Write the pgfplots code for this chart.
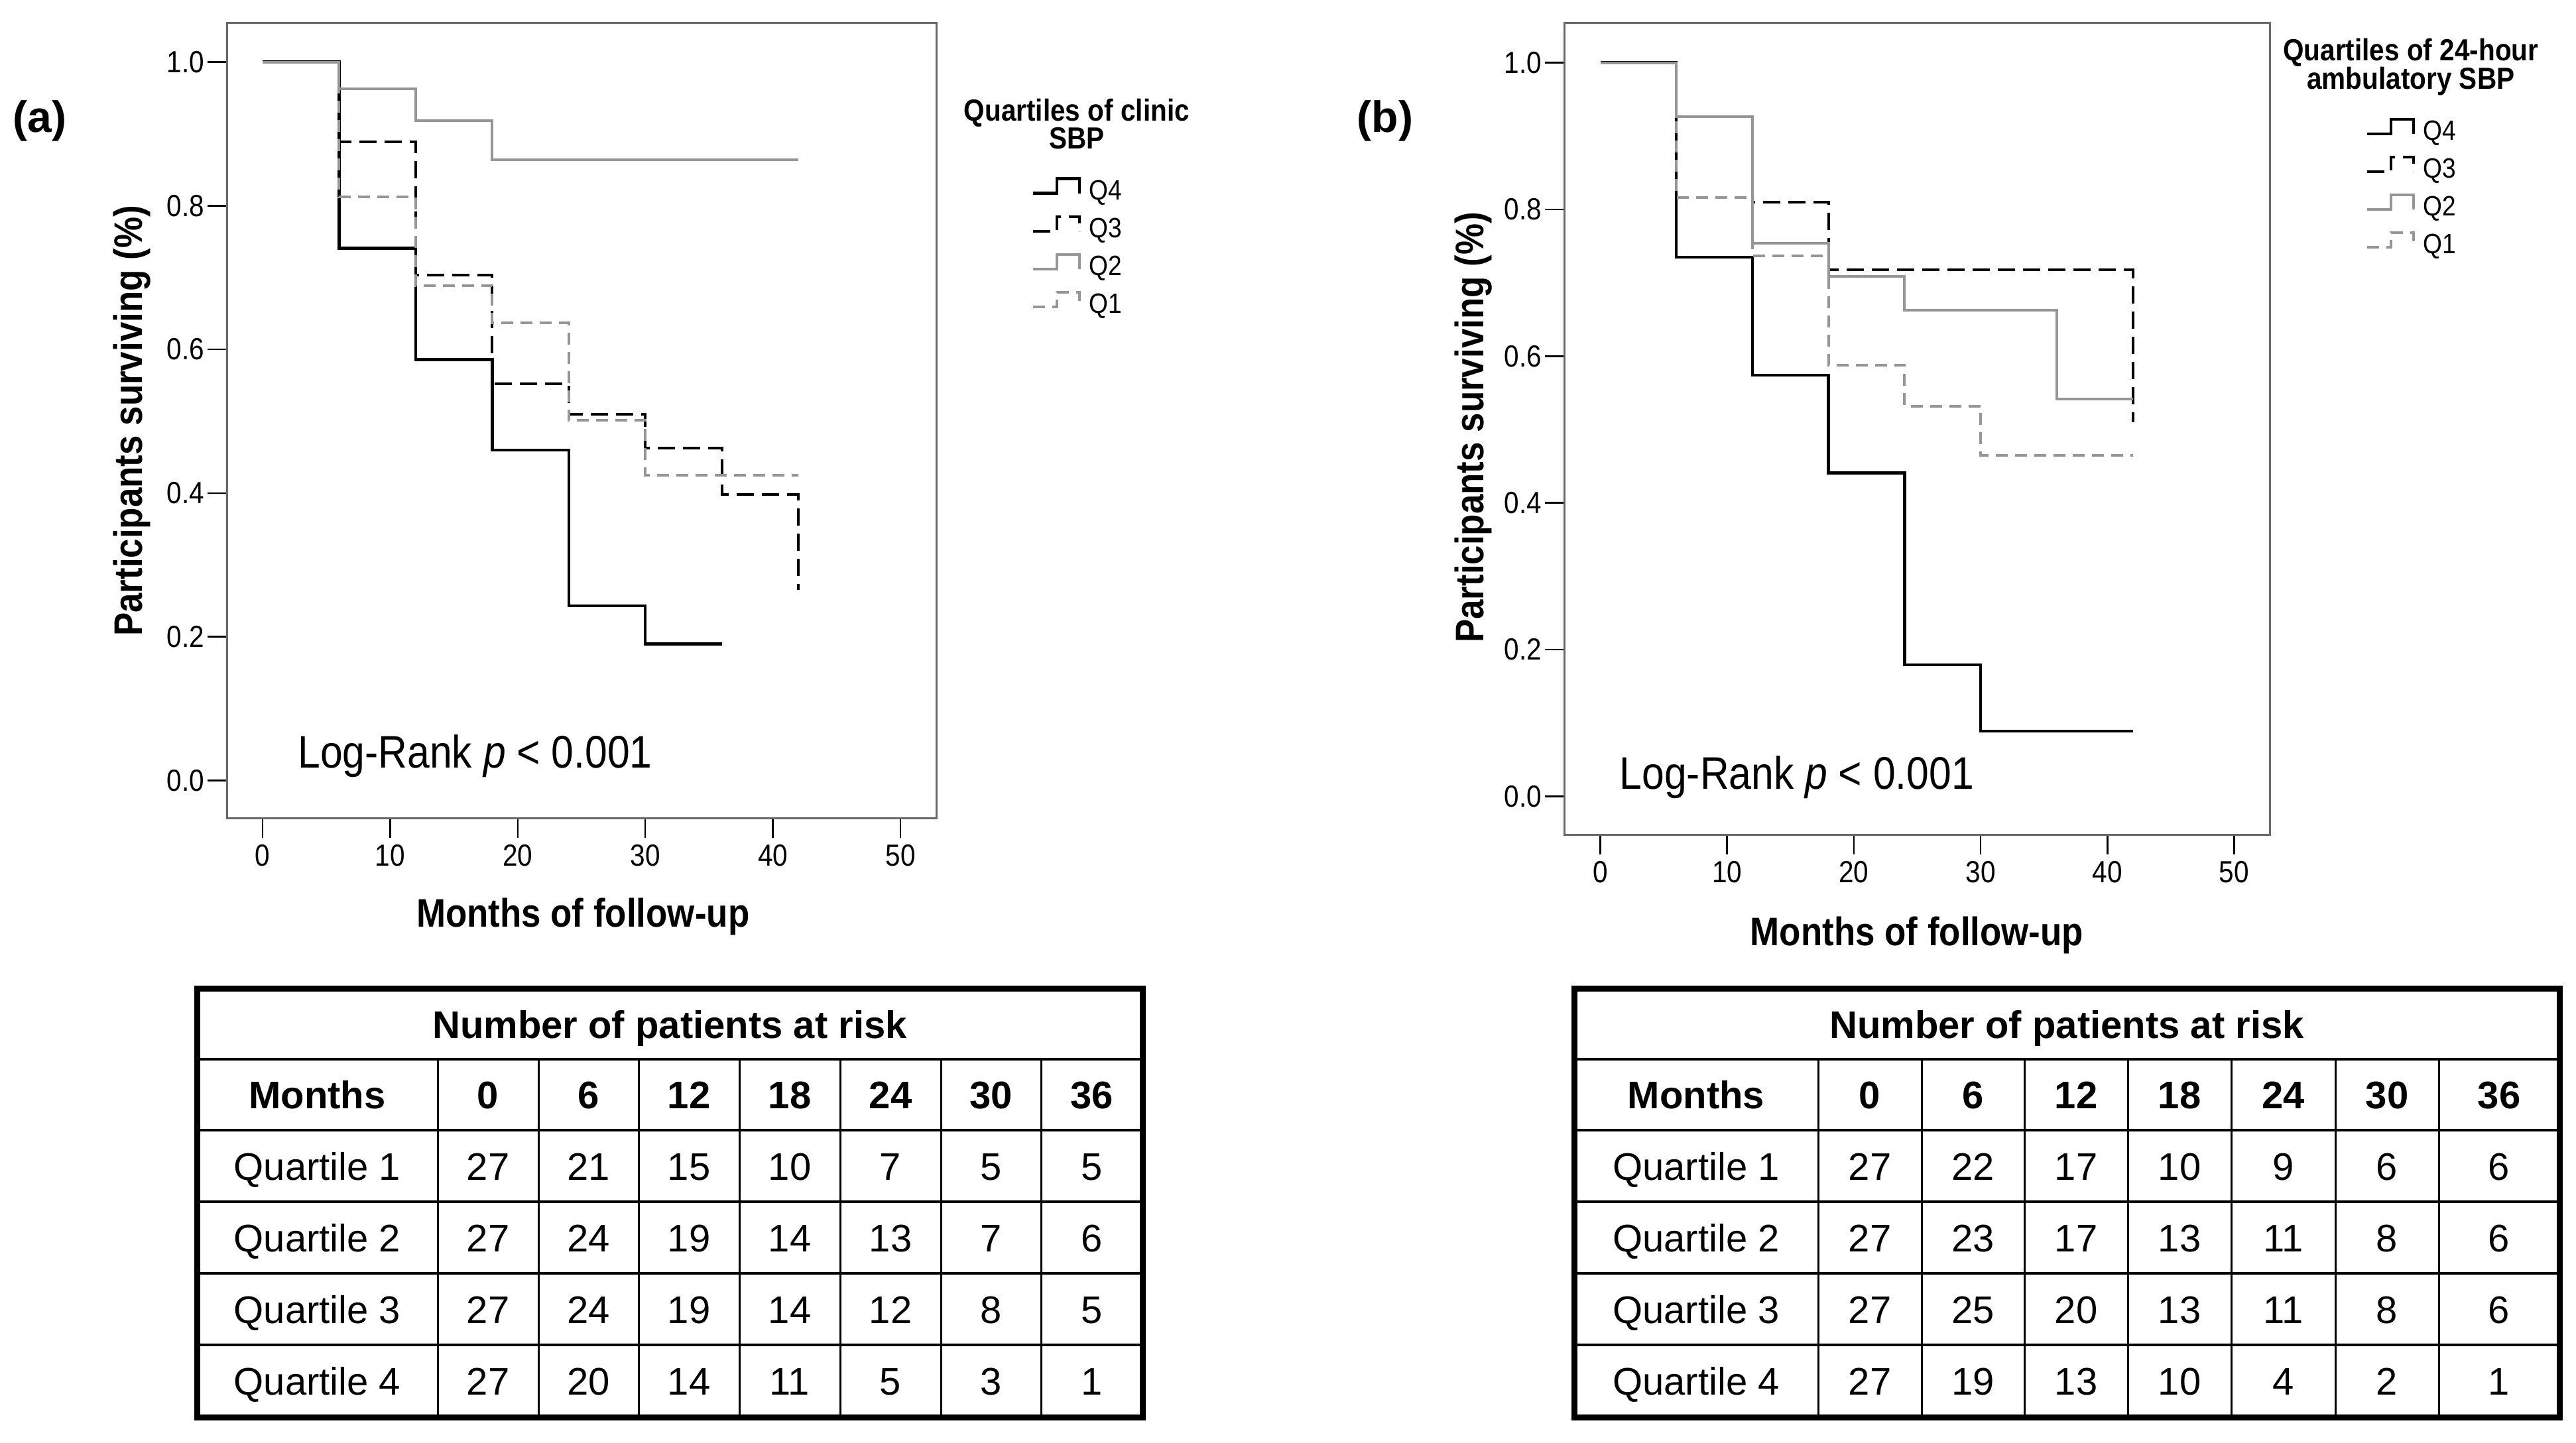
\documentclass[border=0pt]{standalone}
\usepackage{fontspec}
\setmainfont{Liberation Sans}
\newfontfamily\chartfont{Liberation Sans}[FakeStretch=0.88]
\usepackage{pgfplots}
\pgfplotsset{compat=1.18}

\definecolor{kmgray}{RGB}{150,150,150}
\definecolor{framegray}{RGB}{105,105,105}

\pgfplotsset{
  kmaxis/.style={
    scale only axis, anchor=south west, clip=false,
    xmin=-2.8, xmax=52.8, ymin=-0.053, ymax=1.054,
    xtick={0,10,20,30,40,50}, ytick={0,0.2,0.4,0.6,0.8,1},
    tick pos=left, tick align=outside, major tick length=2.9mm,
    axis line style={framegray, line width=0.3mm},
    tick style={black, line width=0.25mm},
    /pgf/number format/assume math mode=true,
    ticklabel style={font=\chartfont\fontsize{13.1pt}{15pt}\selectfont},
    yticklabel style={/pgf/number format/fixed, /pgf/number format/fixed zerofill,
      /pgf/number format/precision=1, inner sep=0.4mm},
    xticklabel style={inner sep=1mm},
    label style={font=\chartfont\bfseries\fontsize{17.1pt}{20pt}\selectfont},
    legend cell align=left,
    legend style={draw=none, fill=none, inner sep=0pt, anchor=west,
      row sep=1.5mm, column sep=1.2mm,
      nodes={inner sep=0pt, text height=4.2mm, text depth=0pt,
        font=\chartfont\fontsize{12pt}{14pt}\selectfont}},
  },
  kmstep/.style={const plot,
    legend image code/.code={\draw[##1, line join=miter]
      (0mm,-1.1mm) -- (3.6mm,-1.1mm) -- (3.6mm,1.1mm) -- (7mm,1.1mm) -- (7mm,-1.1mm);}},
  q4/.style={kmstep, black, line width=0.45mm},
  q3/.style={kmstep, black, line width=0.4mm, dash pattern=on 2.6mm off 1.2mm},
  q2/.style={kmstep, kmgray, line width=0.4mm},
  q1/.style={kmstep, kmgray, line width=0.4mm, dash pattern=on 1.8mm off 1.1mm},
}

\newcommand\tabfont{\fontsize{16.5pt}{19pt}\selectfont}

\begin{document}
\begin{tikzpicture}
\path[use as bounding box] (0,0) rectangle (388.5mm,217.7mm);

% panel (a): clinic SBP
\begin{axis}[kmaxis,
  at={(34.2mm,94.2mm)}, width=107mm, height=120mm,
  xlabel={Months of follow-up}, ylabel={Participants surviving (\%)},
  xlabel style={at={(axis description cs:0.502,-0.123)}, anchor=center},
  ylabel style={at={(axis description cs:-0.134,0.5)}, anchor=center},
  legend style={at={(axis description cs:1.1336,0.724)}},
]
\addplot[q4] coordinates {(0,1) (6,0.741) (12,0.586) (18,0.460) (24,0.243) (30,0.190) (36,0.190)};
\addlegendentry{Q4}
\addplot[q3] coordinates {(0,1) (6,0.889) (12,0.703) (18,0.552) (24,0.510) (30,0.463) (36,0.398) (42,0.265)};
\addlegendentry{Q3}
\addplot[q2] coordinates {(0,1) (6,0.963) (12,0.918) (18,0.864) (42,0.864)};
\addlegendentry{Q2}
\addplot[q1] coordinates {(0,1) (6,0.812) (12,0.689) (18,0.637) (24,0.501) (30,0.425) (42,0.425)};
\addlegendentry{Q1}
\node[anchor=base west, inner sep=0pt, font=\chartfont\fontsize{19.6pt}{22pt}\selectfont]
  at (axis cs:2.75,0.018) {Log-Rank \textit{p} < 0.001};
\node[align=center, inner sep=0pt, font=\chartfont\bfseries\fontsize{13.1pt}{12pt}\selectfont]
  at (axis description cs:1.198,0.873) {Quartiles of clinic\\SBP};
\end{axis}

% panel (b): 24-hour ambulatory SBP
\begin{axis}[kmaxis,
  at={(235.9mm,91.7mm)}, width=106.4mm, height=122.5mm,
  xmin=-2.85,
  xlabel={Months of follow-up}, ylabel={Participants surviving (\%)},
  xlabel style={at={(axis description cs:0.5,-0.123)}, anchor=center},
  ylabel style={at={(axis description cs:-0.129,0.502)}, anchor=center},
  legend style={at={(axis description cs:1.1353,0.803)}},
]
\addplot[q4] coordinates {(0,1) (6,0.735) (12,0.574) (18,0.441) (24,0.179) (30,0.089) (42,0.089)};
\addlegendentry{Q4}
\addplot[q3] coordinates {(0,1) (6,0.927) (12,0.810) (18,0.718) (42,0.510)};
\addlegendentry{Q3}
\addplot[q2] coordinates {(0,1) (6,0.927) (12,0.754) (18,0.709) (24,0.663) (36,0.542) (42,0.542)};
\addlegendentry{Q2}
\addplot[q1] coordinates {(0,1) (6,0.816) (12,0.737) (18,0.588) (24,0.532) (30,0.465) (42,0.465)};
\addlegendentry{Q1}
\node[anchor=base west, inner sep=0pt, font=\chartfont\fontsize{19.6pt}{22pt}\selectfont]
  at (axis cs:1.49,0.010) {Log-Rank \textit{p} < 0.001};
\node[align=center, inner sep=0pt, font=\chartfont\bfseries\fontsize{13.1pt}{12.2pt}\selectfont]
  at (axis description cs:1.2,0.946) {Quartiles of 24-hour\\ambulatory SBP};
\end{axis}

\node[anchor=base west, inner sep=0pt, font=\bfseries\fontsize{18.8pt}{21pt}\selectfont]
  at (1.9mm,197.7mm) {(a)};
\node[anchor=base west, inner sep=0pt, font=\bfseries\fontsize{18.8pt}{21pt}\selectfont]
  at (204.6mm,197.7mm) {(b)};

% at-risk tables, coordinates in pixels of the 3885 x 2177 page
\begin{scope}[x=0.1mm, y=-0.1mm, shift={(0mm,217.7mm)}]
  % table (a)
  \draw[line width=0.45mm] (297,1598) -- (1723,1598);
  \foreach \y in {1705,1813,1921,2029} \draw[line width=0.4mm] (297,\y) -- (1723,\y);
  \foreach \x in {660,812,963,1115,1267,1419,1570} \draw[line width=0.3mm] (\x,1598) -- (\x,2138);
  \draw[line width=0.9mm] (297,1492) rectangle (1723,2138);
  \node[anchor=base, inner sep=0pt, font=\tabfont\bfseries] at (1010,1567) {Number of patients at risk};
  \foreach \x/\h/\a/\b/\c/\d in {478.5/Months/Quartile 1/Quartile 2/Quartile 3/Quartile 4,
      736/0/27/27/27/27, 887.5/6/21/24/24/20, 1039/12/15/19/19/14, 1191/18/10/14/14/11,
      1343/24/7/13/12/5, 1494.5/30/5/7/8/3, 1646.5/36/5/6/5/1} {
    \node[anchor=base, inner sep=0pt, font=\tabfont\bfseries] at (\x,1672) {\h};
    \node[anchor=base, inner sep=0pt, font=\tabfont] at (\x,1780) {\a};
    \node[anchor=base, inner sep=0pt, font=\tabfont] at (\x,1888) {\b};
    \node[anchor=base, inner sep=0pt, font=\tabfont] at (\x,1996) {\c};
    \node[anchor=base, inner sep=0pt, font=\tabfont] at (\x,2104) {\d};
  }
  % table (b)
  \draw[line width=0.45mm] (2374,1598) -- (3860,1598);
  \foreach \y in {1705,1813,1921,2029} \draw[line width=0.4mm] (2374,\y) -- (3860,\y);
  \foreach \x in {2742,2898,3053,3209,3365,3522,3678} \draw[line width=0.3mm] (\x,1598) -- (\x,2138);
  \draw[line width=0.9mm] (2374,1492) rectangle (3860,2138);
  \node[anchor=base, inner sep=0pt, font=\tabfont\bfseries] at (3117,1567) {Number of patients at risk};
  \foreach \x/\h/\a/\b/\c/\d in {2558/Months/Quartile 1/Quartile 2/Quartile 3/Quartile 4,
      2820/0/27/27/27/27, 2975.5/6/22/23/25/19, 3131/12/17/17/20/13, 3287/18/10/13/13/10,
      3443.5/24/9/11/11/4, 3600/30/6/8/8/2, 3769/36/6/6/6/1} {
    \node[anchor=base, inner sep=0pt, font=\tabfont\bfseries] at (\x,1672) {\h};
    \node[anchor=base, inner sep=0pt, font=\tabfont] at (\x,1780) {\a};
    \node[anchor=base, inner sep=0pt, font=\tabfont] at (\x,1888) {\b};
    \node[anchor=base, inner sep=0pt, font=\tabfont] at (\x,1996) {\c};
    \node[anchor=base, inner sep=0pt, font=\tabfont] at (\x,2104) {\d};
  }
\end{scope}
\end{tikzpicture}
\end{document}
